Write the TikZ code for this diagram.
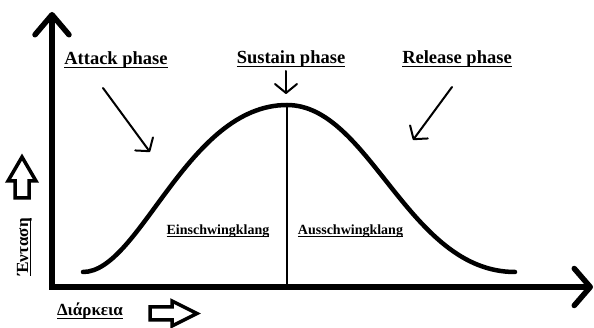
\documentclass[tikz,border=0pt]{standalone}
\usepackage{fontspec}
\setmainfont{Liberation Serif}
\usetikzlibrary{arrows.meta}
\newcommand\ulx[1]{\setbox0\hbox{#1}\rlap{\rule[-0.17em]{\wd0}{0.075em}}\box0}
\begin{document}
\begin{tikzpicture}[x=1pt,y=-1pt,
  lbl/.style={font=\bfseries\fontsize{18.5}{20}\selectfont, anchor=base, inner sep=0pt},
  sublbl/.style={font=\bfseries\fontsize{14}{16}\selectfont, anchor=base, inner sep=0pt},
  axisline/.style={line width=5.5pt, line join=miter},
  curveline/.style={line width=4.5pt, line cap=round},
  pointer/.style={line width=2pt, line cap=round, -{Straight Barb[length=9pt,width=22pt,round]}},
  hollow/.style={line width=3.5pt, line join=miter}]
\useasboundingbox (0,0) rectangle (594,328);
% axes
\coordinate (ytop) at (52,12);
\coordinate (origin) at (52,287);
\coordinate (xend) at (593,287);
\draw[axisline, {Straight Barb[length=20pt,width=34pt,round]}-{Straight Barb[length=16pt,width=37pt,round]}]
  (ytop) -- (origin) -- (xend);
% curve
\coordinate (cstart) at (83,272);
\coordinate (peak) at (287,105);
\coordinate (cend) at (515,272);
\draw[curveline] (cstart) .. controls (140,272) and (187,105) .. (peak)
  .. controls (370,105) and (408,272) .. (cend);
\coordinate (vbot) at (287,287);
\draw[line width=1.5pt] (peak) -- (vbot);
% labels
\node[lbl] (attack) at (116,65) {\ulx{Attack phase}};
\node[lbl] (sustain) at (291,64) {\ulx{Sustain phase}};
\node[lbl] (release) at (457,64) {\ulx{Release phase}};
\node[sublbl] (ein) at (218,235) {\ulx{Einschwingklang}};
\node[sublbl] (aus) at (350.5,235) {\ulx{Ausschwingklang}};
\node[lbl, font=\bfseries\fontsize{17}{19}\selectfont] (dauer) at (90,316) {\ulx{Διάρκεια}};
\node[lbl, font=\bfseries\fontsize{17}{19}\selectfont, rotate=90] (ent) at (28,247) {\ulx{Ένταση}};
% pointer arrows
\coordinate (atkS) at (103,88);
\coordinate (atkE) at (150,152);
\coordinate (susS) at (286,71);
\coordinate (susE) at (286,94);
\coordinate (relS) at (452,87);
\coordinate (relE) at (413,140);
\draw[pointer] (atkS) -- (atkE);
\draw[pointer] (susS) -- (susE);
\draw[pointer] (relS) -- (relE);
% hollow arrows
\draw[hollow] (22,157) -- (36,181) -- (29,181) -- (29,198) -- (15,198) -- (15,181) -- (8,181) -- cycle;
\draw[hollow] (197,313.5) -- (172,301) -- (172,307) -- (150,307) -- (150,320) -- (172,320) -- (172,326) -- cycle;
\end{tikzpicture}
\end{document}
